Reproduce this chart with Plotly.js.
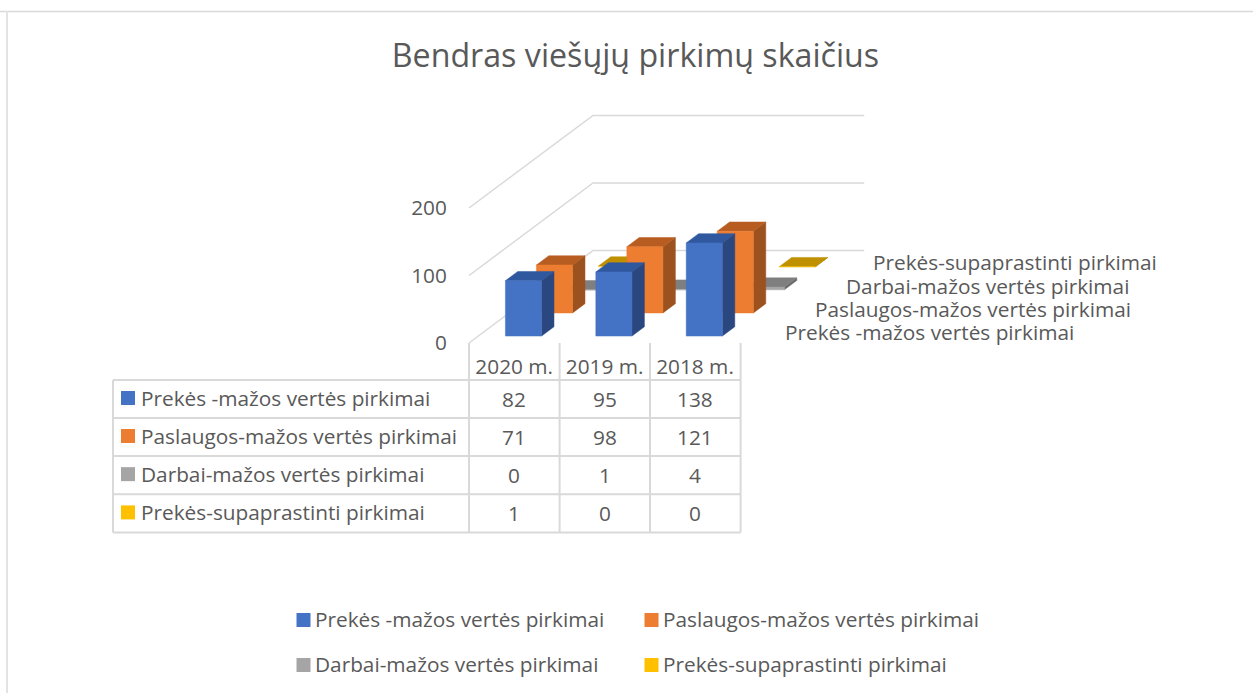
<!DOCTYPE html>
<html><head><meta charset="utf-8">
<script src="https://cdn.plot.ly/plotly-3.0.1.min.js"></script>
<style>html,body{margin:0;padding:0;background:#fff}#c{width:1253px;height:693px}</style>
</head><body><div id="c"></div>
<script>
const chartTitle = "Bendras viešųjų pirkimų skaičius";
const categories = ["2020 m.", "2019 m.", "2018 m."];
const seriesNames = ["Prekės -mažos vertės pirkimai", "Paslaugos-mažos vertės pirkimai", "Darbai-mažos vertės pirkimai", "Prekės-supaprastinti pirkimai"];
const prekesMazos = [82, 95, 138];
const paslaugosMazos = [71, 98, 121];
const darbaiMazos = [0, 1, 4];
const prekesSupaprastinti = [1, 0, 0];
const valueTicks = [0, 100, 200];

const seriesValues = [prekesMazos, paslaugosMazos, darbaiMazos, prekesSupaprastinti];
const frontCol = ["#4472c4", "#ed7d31", "#a5a5a5", "#ffc000"];
const topCol = ["#30589f", "#b85d21", "#7f7f7f", "#bf9000"];
const sideCol = ["#2a4780", "#9c521e", "#6a6a6a", "#9a7500"];

const W = 1253, H = 693;
// pixel frame of the projected plot
const PX0 = 469, PY0 = 343, CATW = 90.4, PXU = 0.675, DEPX = 124, DEPY = 92.5;
const DX = DEPX / CATW, DY = DEPY / PXU;
const domL = 460, domR = 880, domB = 346, domT = 100;
const xr = [(domL - PX0) / CATW, (domR - PX0) / CATW];
const yr = [(PY0 - domB) / PXU, (PY0 - domT) / PXU];
const px = x => x / W, py = y => 1 - y / H;

const traces = [];
function pt(cat, dep, val) { return [cat + dep * DX, val + dep * DY]; }
for (let s = 3; s >= 0; s--) {
  const d0 = (s + 0.5) / 4 - 0.05, d1 = (s + 0.5) / 4 + 0.05;
  const faces = {side: [[], []], top: [[], []], front: [[], []]};
  const add = (f, pts) => {
    pts.concat([pts[0]]).forEach(p => { f[0].push(p[0]); f[1].push(p[1]); });
    f[0].push(null); f[1].push(null);
  };
  seriesValues[s].forEach((v, c) => {
    const a = c + 0.3, b = c + 0.7;
    add(faces.side, [pt(b, d0, 0), pt(b, d1, 0), pt(b, d1, v), pt(b, d0, v)]);
    add(faces.top, [pt(a, d0, v), pt(b, d0, v), pt(b, d1, v), pt(a, d1, v)]);
    add(faces.front, [pt(a, d0, 0), pt(b, d0, 0), pt(b, d0, v), pt(a, d0, v)]);
  });
  [["side", sideCol[s]], ["top", topCol[s]], ["front", frontCol[s]]].forEach(([k, col]) => {
    traces.push({type: "scatter", mode: "lines", x: faces[k][0], y: faces[k][1], fill: "toself",
      fillcolor: col, line: {color: col, width: 0.5}, name: seriesNames[s], hoverinfo: "skip", showlegend: false});
  });
}

// wall grid lines, drawn through the same projection
const gridTraces = valueTicks.map(v => {
  const p0 = pt(0, 0, v), p1 = pt(0, 1, v), p2 = pt(3, 1, v);
  return {type: "scatter", mode: "lines", x: [p0[0], p1[0], p2[0]], y: [p0[1], p1[1], p2[1]],
    line: {color: "#d9d9d9", width: 1.5}, hoverinfo: "skip", showlegend: false};
});

const txt = "#595959", FONT = "Open Sans", FS = 20.8;
const annotations = [], shapes = [];
function label(x, y, text, anchor, size) {
  annotations.push({xref: "paper", yref: "paper", x: px(x), y: py(y), text, showarrow: false,
    xanchor: anchor || "left", yanchor: "middle", align: anchor || "left",
    font: {family: FONT, size: size || FS, color: txt}, borderpad: 0, borderwidth: 0});
}
function line(x0, y0, x1, y1, col, w) {
  shapes.push({type: "line", xref: "paper", yref: "paper", x0: px(x0), y0: py(y0), x1: px(x1), y1: py(y1),
    line: {color: col || "#d9d9d9", width: w || 2}, layer: "below"});
}
function swatch(x, y, col) {
  shapes.push({type: "rect", xref: "paper", yref: "paper", x0: px(x), y0: py(y), x1: px(x + 14), y1: py(y + 14),
    fillcolor: col, line: {width: 0}, layer: "above"});
}

// outer frame
line(0, 11.5, W, 11.5, "#d9d9d9", 1.5);
line(7, 11, 7, H, "#e3e3e3", 2);

// data table
const colX = [469, 559.6, 650, 740.6], rowY = [380, 418, 456, 494.3, 532.5], tabL = 113;
rowY.forEach(y => line(tabL, y, colX[3], y));
line(tabL, rowY[0], tabL, rowY[4]);
colX.forEach(x => line(x, 343, x, rowY[4]));
seriesNames.forEach((n, r) => {
  const cy = (rowY[r] + rowY[r + 1]) / 2;
  swatch(121, cy - 8, frontCol[r]);
  label(141, cy - 1, n);
  seriesValues[r].forEach((v, c) => label((colX[c] + colX[c + 1]) / 2, cy, String(v), "center"));
});

// depth-axis labels
const depthLabelX = [785, 815, 846, 873], depthLabelY = [332, 309, 286, 262];
seriesNames.forEach((n, i) => label(depthLabelX[i], depthLabelY[i], n));

// legend
const legX = [296.5, 644.5], legY = [620, 665];
seriesNames.forEach((n, i) => {
  const x = legX[i % 2], y = legY[Math.floor(i / 2)];
  swatch(x, y - 7, frontCol[i]);
  label(x + 18.5, y - 1, n);
});

const layout = {
  width: W, height: H, margin: {l: 0, r: 0, t: 0, b: 0}, paper_bgcolor: "#fff", plot_bgcolor: "rgba(0,0,0,0)",
  showlegend: false, hovermode: false,
  title: {text: chartTitle, x: 635.5 / W, xanchor: "center", y: 1 - 56 / H, yanchor: "middle",
    font: {family: FONT, size: 32.2, color: txt}},
  xaxis: {domain: [px(domL), px(domR)], range: xr, tickmode: "array", tickvals: [0.5, 1.5, 2.5], ticktext: categories,
    ticks: "outside", ticklen: 2, tickcolor: "rgba(0,0,0,0)", showgrid: false, zeroline: false, showline: false,
    tickfont: {family: FONT, size: FS, color: txt}, fixedrange: true},
  yaxis: {domain: [py(domB), py(domT)], range: yr, tickmode: "array", tickvals: valueTicks,
    ticks: "outside", ticklen: 8, tickcolor: "rgba(0,0,0,0)", showgrid: false, zeroline: false, showline: false,
    tickfont: {family: FONT, size: FS, color: txt}, fixedrange: true},
  annotations, shapes
};
Plotly.newPlot("c", gridTraces.concat(traces), layout, {displayModeBar: false, staticPlot: true});
</script></body></html>
